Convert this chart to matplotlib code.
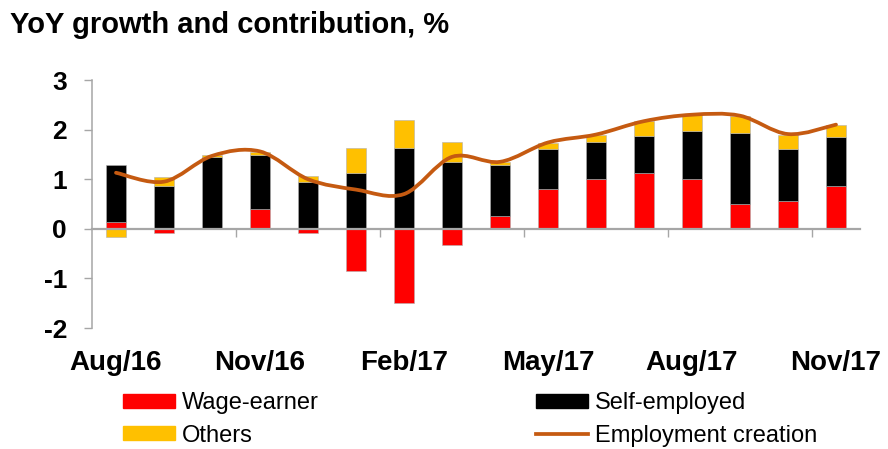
import numpy as np
import matplotlib
matplotlib.use("Agg")
import matplotlib.pyplot as plt
from matplotlib.path import Path
from matplotlib.patches import PathPatch, Patch
from matplotlib.lines import Line2D

plt.rcParams['font.family'] = ['Liberation Sans', 'DejaVu Sans']

# monthly data, Aug/16 .. Nov/17
months = ['Aug/16', 'Sep/16', 'Oct/16', 'Nov/16', 'Dec/16', 'Jan/17', 'Feb/17', 'Mar/17',
          'Apr/17', 'May/17', 'Jun/17', 'Jul/17', 'Aug/17', 'Sep/17', 'Oct/17', 'Nov/17']
wage = [0.14, -0.08, -0.01, 0.39, -0.08, -0.85, -1.49, -0.32, 0.26, 0.81, 1.00, 1.12, 1.01, 0.51, 0.56, 0.86]
self_emp = [1.14, 0.86, 1.45, 1.09, 0.94, 1.12, 1.62, 1.34, 1.02, 0.80, 0.76, 0.75, 0.96, 1.43, 1.05, 0.99]
others = [-0.16, 0.18, 0.03, 0.07, 0.13, 0.51, 0.58, 0.42, 0.06, 0.12, 0.14, 0.30, 0.33, 0.33, 0.29, 0.25]
employment = [1.13, 0.95, 1.47, 1.56, 1.00, 0.79, 0.70, 1.45, 1.35, 1.74, 1.90, 2.17, 2.30, 2.28, 1.91, 2.10]

RED, BLACK, GOLD, LINE, GREY = '#FF0000', '#000000', '#FFC000', '#C55A11', '#A6A6A6'

fig = plt.figure(figsize=(8.88, 4.49), dpi=100)
ax = fig.add_axes([92 / 888, 1 - 328 / 449, 768 / 888, 248 / 449])

x = np.arange(len(months))
pos_base = np.zeros(len(months))
neg_base = np.zeros(len(months))
for vals, col in [(wage, RED), (self_emp, BLACK), (others, GOLD)]:
    v = np.array(vals)
    base = np.where(v >= 0, pos_base, neg_base)
    ax.bar(x, v, 0.4, bottom=base, color=col, edgecolor='#b0b0b0', linewidth=0.4, zorder=1)
    pos_base += np.where(v >= 0, v, 0)
    neg_base += np.where(v < 0, v, 0)

# smoothed line (Excel style): cubic bezier through the points
pts = np.column_stack([x, employment]).astype(float)
ext = np.vstack([pts[0], pts, pts[-1]])
verts = [tuple(pts[0])]
codes = [Path.MOVETO]
for i in range(len(pts) - 1):
    p0, p1, p2, p3 = ext[i], ext[i + 1], ext[i + 2], ext[i + 3]
    c1 = p1 + (p2 - p0) / 6
    c2 = p2 - (p3 - p1) / 6
    verts += [tuple(c1), tuple(c2), tuple(p2)]
    codes += [Path.CURVE4] * 3
ax.add_patch(PathPatch(Path(verts, codes), fill=False, edgecolor=LINE, lw=2.7,
                       capstyle='round', zorder=3))

ax.set_xlim(-0.5, len(months) - 0.5)
ax.set_ylim(-2, 3)
ax.set_yticks([-2, -1, 0, 1, 2, 3])
ax.set_yticklabels(['-2', '-1', '0', '1', '2', '3'])

ax.set_xticks(x[::3])
ax.set_xticklabels(months[::3])
ax.set_xticks(np.arange(2.5, len(months) - 1, 3), minor=True)

for s in ['right', 'bottom']:
    ax.spines[s].set_visible(False)
ax.spines['left'].set_color(GREY)
ax.spines['left'].set_linewidth(1.1)
ax.spines['top'].set_position(('data', 0))
ax.spines['top'].set_color(GREY)
ax.spines['top'].set_linewidth(1.6)

ax.tick_params(axis='y', direction='out', length=6, width=1, color=GREY, pad=12,
               labelsize=19)
ax.tick_params(axis='x', which='major', length=0, pad=16, labelsize=20,
               top=False, bottom=True)
ax.tick_params(axis='x', which='minor', length=6, width=1, color=GREY, direction='in',
               top=True, bottom=False)
for lab in ax.get_xticklabels() + ax.get_yticklabels():
    lab.set_fontweight('bold')

fig.text(10 / 888, 1 - 33 / 449, 'YoY growth and contribution, %', fontsize=21,
         fontweight='bold', va='baseline', ha='left')

handles = [Patch(color=RED), Patch(color=GOLD), Patch(color=BLACK),
           Line2D([], [], color=LINE, lw=2.7)]
labels = ['Wage-earner', 'Others', 'Self-employed', 'Employment creation']
fig.legend(handles, labels, ncol=2, loc='upper left', bbox_to_anchor=(123 / 888, 1 - 392 / 449),
           frameon=False, fontsize=17, handlelength=2.2, handleheight=0.55,
           handletextpad=0.3, columnspacing=9.2, labelspacing=0.45,
           borderpad=0, borderaxespad=0)

fig.savefig('out.png', dpi=100)
